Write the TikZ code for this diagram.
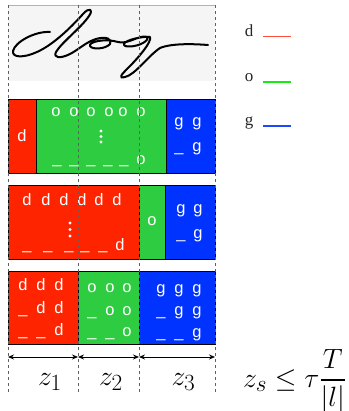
\documentclass[tikz,border=0pt]{standalone}
\usepackage{amsmath}
\usepackage{graphicx}
\usepackage{fontspec}
\newfontfamily\sfb{Liberation Sans}
\newfontfamily\serb{Liberation Serif}
\usetikzlibrary{arrows.meta}
\definecolor{bred}{RGB}{255,36,0}
\definecolor{bgreen}{RGB}{46,204,64}
\definecolor{bblue}{RGB}{0,51,255}
\definecolor{lred}{RGB}{255,80,60}
\definecolor{lgreen}{RGB}{20,235,20}
\definecolor{lblue}{RGB}{30,70,255}
\newcommand{\hugemath}[1]{\scalebox{1.12}{\Huge$#1$}}
\tikzset{
  ch/.style={anchor=base, inner sep=0pt, text=white, font=\sfb\fontsize{16.5}{19}\selectfont},
  blk/.style={draw=black, line width=0.5pt},
  guide/.style={draw=gray!75!black, line width=0.6pt, dash pattern=on 3pt off 3pt},
  dim/.style={line width=0.8pt, {Stealth[length=6pt,width=5pt]}-{Stealth[length=6pt,width=5pt]}},
  leg/.style={anchor=base, inner sep=0pt, text=black!85, font=\serb\fontsize{17}{20}\selectfont},
  legline/.style={line width=1.8pt},
  zlab/.style={anchor=base, inner sep=0pt},
}
\begin{document}
\begin{tikzpicture}[x=1pt,y=-1pt]
\useasboundingbox (0,0) rectangle (348,411);
% handwriting box
\fill[gray!8] (8,5) rectangle (215,81);
\draw[gray!60] (8,5) -- (215,5);
\draw[line width=2pt, line cap=round, line join=round]
 (50,32) .. controls (35,31) and (15,42) .. (13,51)
 .. controls (12,58) and (24,58) .. (37,52)
 .. controls (55,44) and (74,24) .. (83,14)
 .. controls (89,7) and (94,9) .. (89,16)
 .. controls (81,28) and (62,42) .. (56,52)
 .. controls (53,58) and (60,59) .. (70,54)
 .. controls (78,50) and (86,42) .. (96,39)
 .. controls (106,36) and (113,39) .. (110,44)
 .. controls (106,49) and (92,50) .. (90,46)
 .. controls (88,42) and (105,38) .. (118,42)
 .. controls (126,44) and (133,39) .. (141,37)
 .. controls (149,35) and (150,39) .. (143,43)
 .. controls (136,47) and (123,48) .. (124,44)
 .. controls (125,40) and (143,36) .. (150,37)
 .. controls (152,42) and (138,58) .. (130,66)
 .. controls (122,74) and (117,79) .. (125,77)
 .. controls (135,75) and (148,56) .. (160,48)
 .. controls (172,43) and (195,44) .. (208,45);
% row 1
\filldraw[blk, fill=bred] (8,99) rectangle (36,173);
\filldraw[blk, fill=bgreen] (36,99) rectangle (166,173);
\filldraw[blk, fill=bblue] (166,99) rectangle (215,173);
\node[ch] (r1d) at (22,142) {d};
\foreach \x [count=\i] in {56,74,91,109,123,141} \node[ch] (r1a\i) at (\x,117) {o};
\foreach \x [count=\i] in {57,74,91,108,124} \node[ch] (r1b\i) at (\x,164) {\_};
\node[ch] (r1b6) at (141,165) {o};
\foreach \y in {131,136.5,142} \fill[white] (101,\y) circle (1.7);
\node[ch] (r1g1) at (179,127) {g};
\node[ch] (r1g2) at (197,127) {g};
\node[ch] (r1g3) at (179,152) {\_};
\node[ch] (r1g4) at (197,152) {g};
% row 2
\filldraw[blk, fill=bred] (8,185) rectangle (139,259);
\filldraw[blk, fill=bgreen] (139,185) rectangle (165,259);
\filldraw[blk, fill=bblue] (165,185) rectangle (215,259);
\foreach \x [count=\i] in {27,46,64,82,99,117} \node[ch] (r2a\i) at (\x,206) {d};
\foreach \x [count=\i] in {27,48,69,85,103} \node[ch] (r2b\i) at (\x,249) {\_};
\node[ch] (r2b6) at (120,250) {d};
\foreach \y in {223,229.5,236} \fill[white] (70,\y) circle (1.7);
\node[ch] (r2o) at (152,225) {o};
\node[ch] (r2g1) at (181,213) {g};
\node[ch] (r2g2) at (198,213) {g};
\node[ch] (r2g3) at (181,238) {\_};
\node[ch] (r2g4) at (198,238) {g};
% row 3
\filldraw[blk, fill=bred] (8,271) rectangle (78,344);
\filldraw[blk, fill=bgreen] (78,271) rectangle (139,344);
\filldraw[blk, fill=bblue] (139,271) rectangle (215,344);
\node[ch] (r3d1) at (23,290) {d};
\node[ch] (r3d2) at (41,290) {d};
\node[ch] (r3d3) at (59,290) {d};
\node[ch] (r3d4) at (23,313) {\_};
\node[ch] (r3d5) at (41,313) {d};
\node[ch] (r3d6) at (59,313) {d};
\node[ch] (r3d7) at (23,335) {\_};
\node[ch] (r3d8) at (41,335) {\_};
\node[ch] (r3d9) at (59,335) {d};
\node[ch] (r3o1) at (92,292) {o};
\node[ch] (r3o2) at (110,292) {o};
\node[ch] (r3o3) at (127,292) {o};
\node[ch] (r3o4) at (92,315) {\_};
\node[ch] (r3o5) at (110,315) {o};
\node[ch] (r3o6) at (127,315) {o};
\node[ch] (r3o7) at (92,336) {\_};
\node[ch] (r3o8) at (110,336) {\_};
\node[ch] (r3o9) at (127,336) {o};
\node[ch] (r3g1) at (161,293) {g};
\node[ch] (r3g2) at (179,293) {g};
\node[ch] (r3g3) at (197,293) {g};
\node[ch] (r3g4) at (161,315) {\_};
\node[ch] (r3g5) at (179,315) {g};
\node[ch] (r3g6) at (197,315) {g};
\node[ch] (r3g7) at (161,337) {\_};
\node[ch] (r3g8) at (179,337) {\_};
\node[ch] (r3g9) at (197,337) {g};
% guides
\foreach \x in {8,78,139,215} \draw[guide] (\x,5) -- (\x,394);
% dimension arrows
\coordinate (a0) at (8,357);
\coordinate (a1) at (78,357);
\coordinate (a2) at (139,357);
\coordinate (a3) at (215,357);
\draw[dim] (a0) -- (a1);
\draw[dim] (a1) -- (a2);
\draw[dim] (a2) -- (a3);
\node[zlab] (z1) at (50,385) {\hugemath{z_1}};
\node[zlab] (z2) at (111,385) {\hugemath{z_2}};
\node[zlab] (z3) at (183.5,385) {\hugemath{z_3}};
\node[zlab, anchor=base west] (form) at (243,387) {\hugemath{z_s \leq \tau\dfrac{T}{|l|}}};
% legend
\node[leg] (ld) at (249,37) {d};
\coordinate (ld1) at (263,36.5); \coordinate (ld2) at (291,36.5);
\draw[legline, lred] (ld1) -- (ld2);
\node[leg] (lo) at (249,82) {o};
\coordinate (lo1) at (263,82); \coordinate (lo2) at (291,82);
\draw[legline, lgreen] (lo1) -- (lo2);
\node[leg] (lg) at (249,126) {g};
\coordinate (lg1) at (263,126); \coordinate (lg2) at (291,126);
\draw[legline, lblue] (lg1) -- (lg2);
\end{tikzpicture}
\end{document}
